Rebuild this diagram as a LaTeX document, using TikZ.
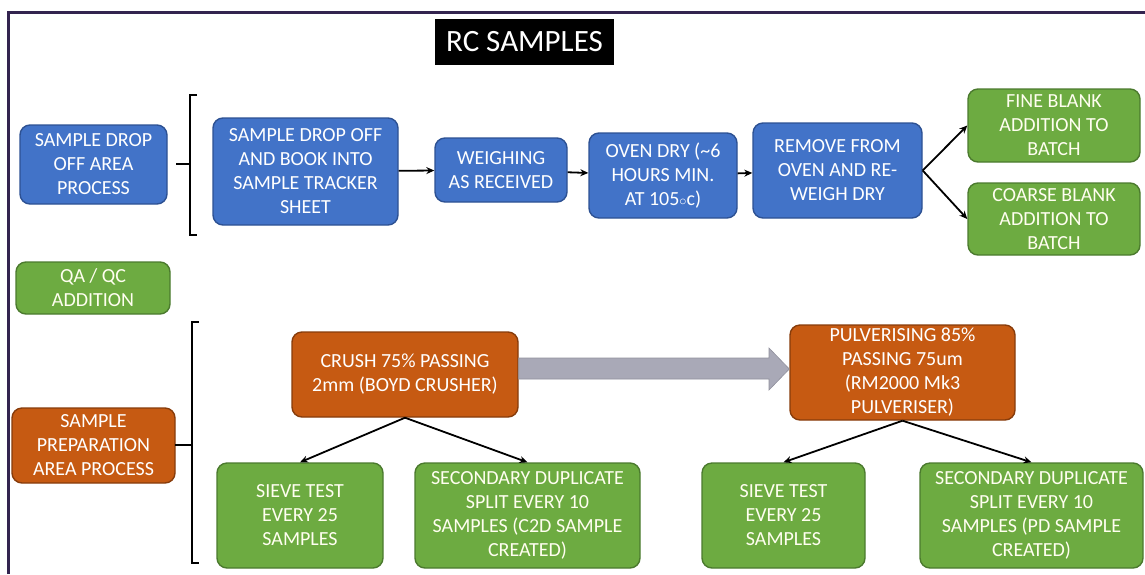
\documentclass[tikz,border=0pt]{standalone}
\usepackage{fontspec}
\setmainfont{Carlito}
\usetikzlibrary{arrows.meta}
\definecolor{bluefill}{HTML}{4273C8}
\definecolor{blueline}{HTML}{2D5193}
\definecolor{greenfill}{HTML}{6DAB41}
\definecolor{greenline}{HTML}{4B7A2E}
\definecolor{orangefill}{HTML}{C65A12}
\definecolor{orangeline}{HTML}{873C0B}
\definecolor{framecol}{HTML}{33244F}
\definecolor{arrowgray}{HTML}{A9A9B7}
\tikzstyle{box}=[rectangle,rounded corners=10pt,line width=1.4pt,align=center,text=white,font=\fontsize{20}{24}\selectfont,inner sep=2pt]
\tikzstyle{bluebox}=[box,fill=bluefill,draw=blueline]
\tikzstyle{greenbox}=[box,fill=greenfill,draw=greenline,text=white!94!yellow]
\tikzstyle{orangebox}=[box,fill=orangefill,draw=orangeline]
\tikzstyle{link}=[line width=1.8pt,-{Stealth[length=8pt,width=7pt]}]
\tikzstyle{brace}=[line width=1.4pt]
\tikzset{size/.style 2 args={minimum width=#1pt,minimum height=#2pt}}

\begin{document}
\begin{tikzpicture}[x=1pt,y=-1pt]
  \useasboundingbox (0,0) rectangle (1145,574);
  \draw[framecol,line width=3pt] (8.5,574) -- (8.5,12) -- (1145,12);
  \node[fill=black,text=white,font=\fontsize{31}{36}\selectfont,size={179}{46},inner sep=0pt] (title) at (524.5,42) {RC SAMPLES};

  \node[bluebox,size={147}{79}] (droparea) at (93.5,164.5) {SAMPLE DROP\\OFF AREA\\PROCESS};
  \node[bluebox,size={185}{107}] (book) at (305.5,171.5) {SAMPLE DROP OFF\\AND BOOK INTO\\SAMPLE TRACKER\\SHEET};
  \node[bluebox,size={132}{64}] (weigh) at (501,170) {WEIGHING\\AS RECEIVED};
  \node[bluebox,size={148}{85}] (oven) at (663,175.5) {OVEN DRY (\textasciitilde6\\HOURS MIN.\\AT 105$\scriptstyle\circ$c)};
  \node[bluebox,size={169}{95}] (reweigh) at (837.5,170.5) {REMOVE FROM\\OVEN AND RE-\\WEIGH DRY};
  \node[greenbox,size={172}{73}] (fine) at (1054,125.5) {FINE BLANK\\ADDITION TO\\BATCH};
  \node[greenbox,size={172}{72}] (coarse) at (1054,219) {COARSE BLANK\\ADDITION TO\\BATCH};

  \node[greenbox,size={154}{52}] (qaqc) at (93,288) {QA / QC\\ADDITION};

  \node[orangebox,size={163}{75}] (preparea) at (93.5,445.5) {SAMPLE\\PREPARATION\\AREA PROCESS};
  \node[orangebox,size={226}{85}] (crush) at (405,374.5) {CRUSH 75\% PASSING\\2mm (BOYD CRUSHER)};
  \node[orangebox,size={225}{95}] (pulv) at (902.5,372.5) {PULVERISING 85\%\\PASSING 75um\\(RM2000 Mk3\\PULVERISER)};
  \node[greenbox,size={166}{105}] (sieveA) at (300,515.5) {SIEVE TEST\\EVERY 25\\SAMPLES};
  \node[greenbox,size={225}{105}] (dupA) at (527.5,515.5) {SECONDARY DUPLICATE\\SPLIT EVERY 10\\SAMPLES (C2D SAMPLE\\CREATED)};
  \node[greenbox,size={163}{105}] (sieveB) at (783.5,515.5) {SIEVE TEST\\EVERY 25\\SAMPLES};
  \node[greenbox,size={223}{105}] (dupB) at (1031.5,515.5) {SECONDARY DUPLICATE\\SPLIT EVERY 10\\SAMPLES (PD SAMPLE\\CREATED)};

  \draw[brace] (197,95) -- (190,95) -- (190,235) -- (197,235);
  \draw[brace] (176,164) -- (190,164);
  \draw[brace] (199,322) -- (192,322) -- (192,563) -- (199,563);
  \draw[brace] (175,445) -- (192,445);

  \draw[link] (book) -- (weigh);
  \draw[link] (weigh) -- (oven);
  \draw[link] (oven) -- (reweigh);
  \draw[link] (reweigh.east) -- (fine.west);
  \draw[link] (reweigh.east) -- (coarse.west);

  \draw[arrowgray!85!black,fill=arrowgray,line width=0.6pt] (crush.east |- 0,358) -- (769,358) -- (769,348) -- (pulv.west |- 0,369) -- (769,390) -- (769,379) -- (crush.east |- 0,379) -- cycle;

  \draw[link] (crush.south) -- (sieveA.north);
  \draw[link] (crush.south) -- (dupA.north);
  \draw[link] (pulv.south) -- (sieveB.north);
  \draw[link] (pulv.south) -- (dupB.north);
\end{tikzpicture}
\end{document}
